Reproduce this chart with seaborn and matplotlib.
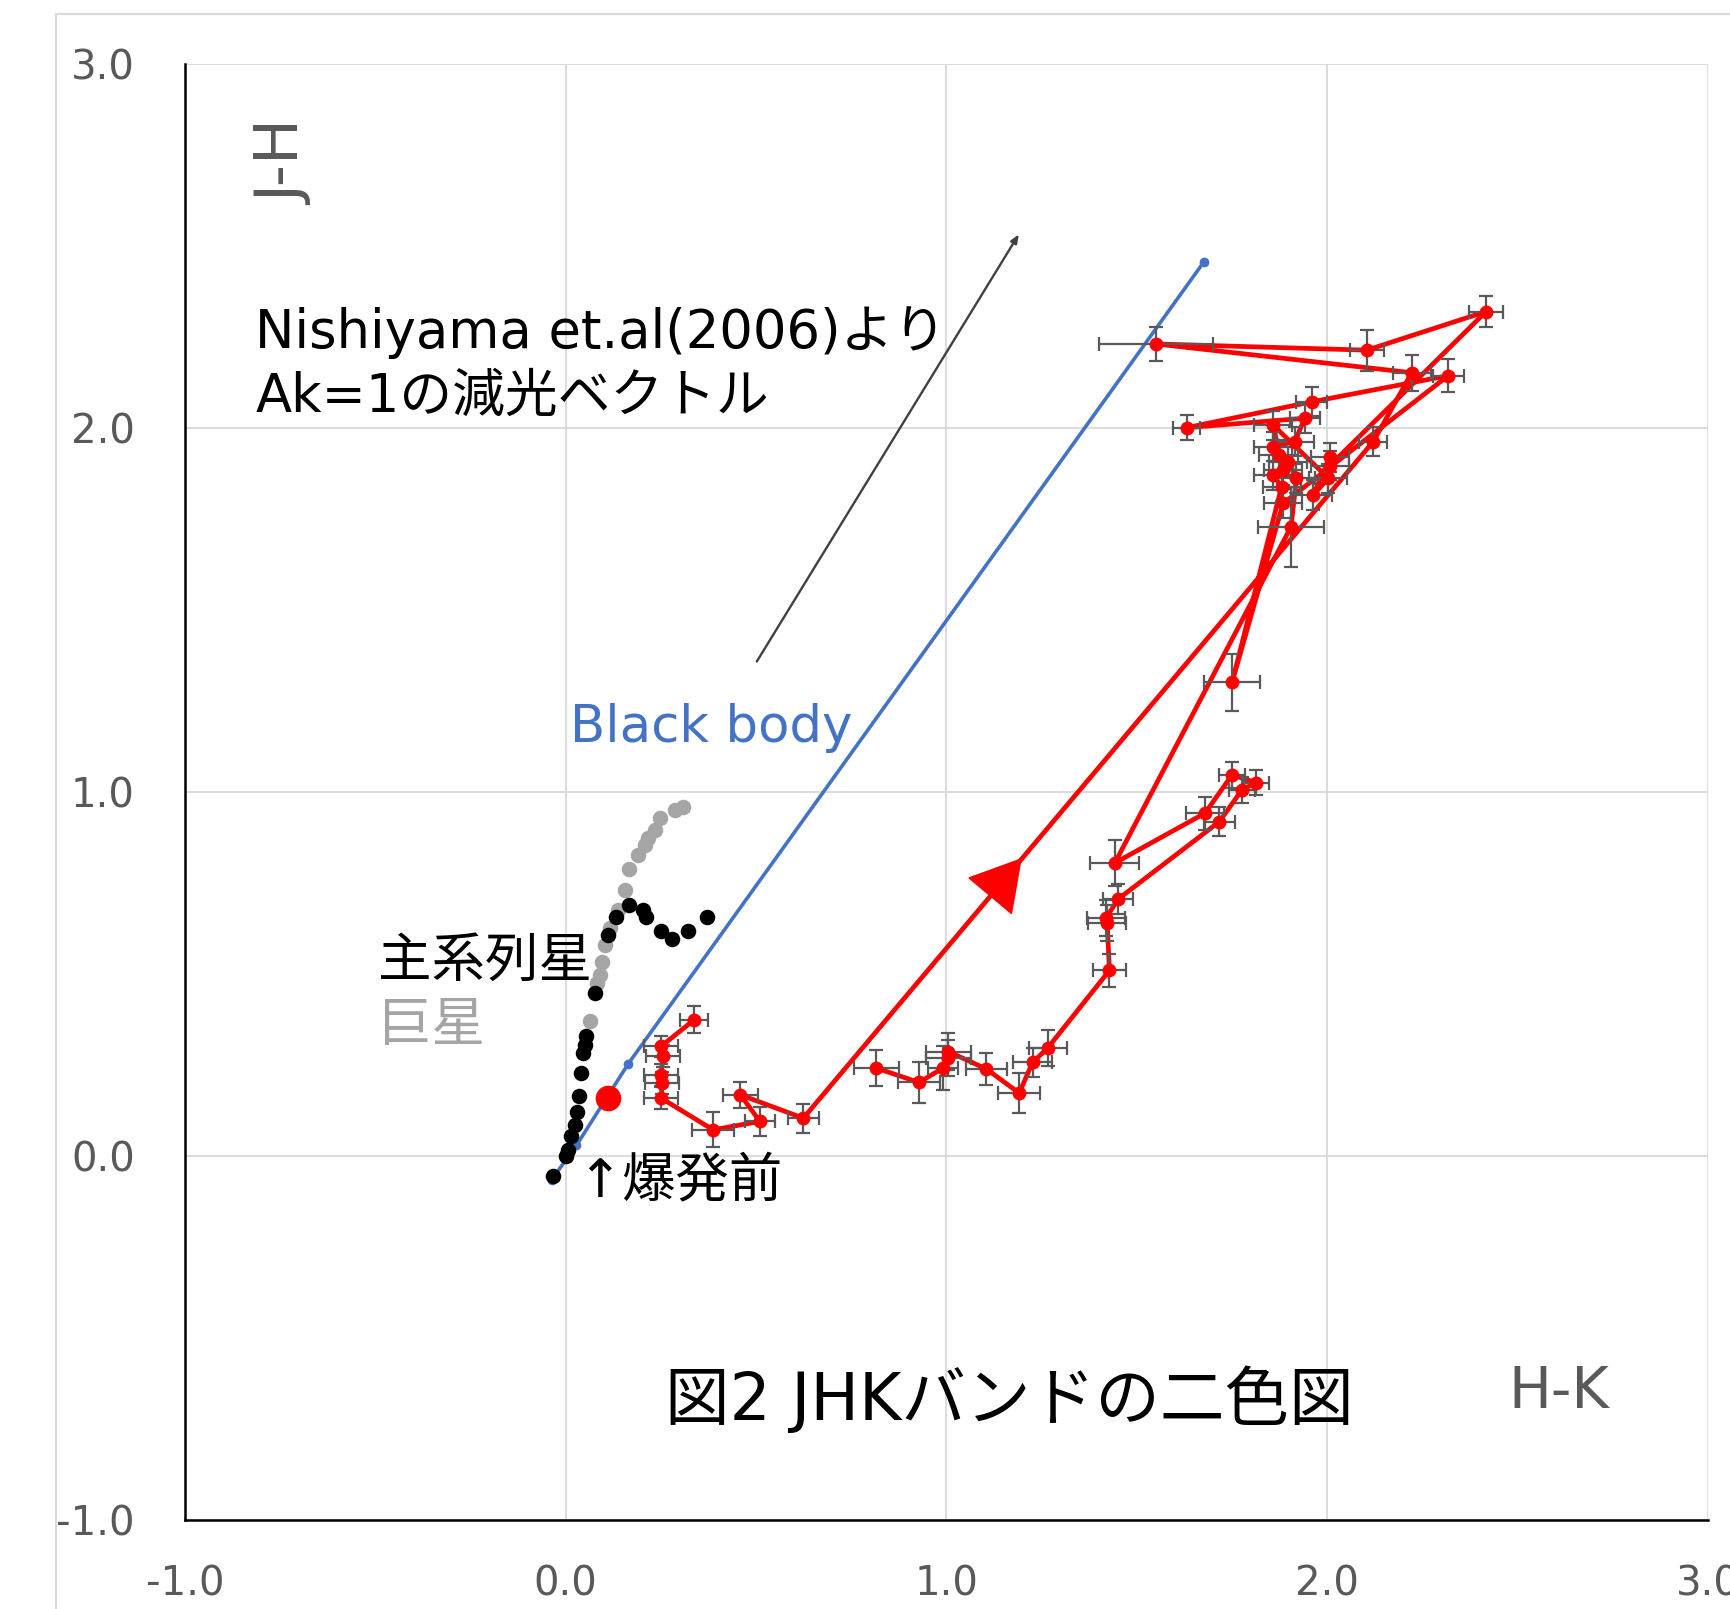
import numpy as np
import pandas as pd
import matplotlib.pyplot as plt
import matplotlib.patches as mpatches
import seaborn as sns

# main sequence (black) and giants (gray)
ms_hk = [-0.033, 0.002, 0.006, 0.015, 0.024, 0.030, 0.035, 0.039, 0.046, 0.050, 0.054,
         0.076, 0.111, 0.133, 0.166, 0.203, 0.212, 0.251, 0.278, 0.321, 0.371]
ms_jh = [-0.056, -0.001, 0.017, 0.054, 0.086, 0.122, 0.164, 0.228, 0.283, 0.306, 0.329,
         0.448, 0.608, 0.658, 0.690, 0.676, 0.658, 0.617, 0.596, 0.617, 0.658]
giant_hk = [0.063, 0.081, 0.089, 0.094, 0.102, 0.116, 0.137, 0.155, 0.166, 0.190,
            0.208, 0.216, 0.234, 0.247, 0.286, 0.308]
giant_jh = [0.370, 0.475, 0.498, 0.534, 0.580, 0.626, 0.676, 0.731, 0.788, 0.827,
            0.855, 0.873, 0.896, 0.928, 0.951, 0.958]

# black body line
bb_hk = [-0.037, 0.028, 0.164, 1.675]
bb_jh = [-0.065, 0.029, 0.253, 2.455]

# pre-outburst point
pre_hk = [0.111]
pre_jh = [0.159]

# outburst track (time order)
obs_hk = [0.337, 0.250, 0.256, 0.250, 0.253, 0.251, 0.387, 0.510, 0.459, 0.624,
          2.121, 2.222, 1.550, 2.104, 2.417, 2.007, 2.007, 1.963, 2.003, 1.858,
          1.884, 1.872, 1.858, 1.915, 1.941, 1.631, 1.959, 2.318, 1.884, 1.750,
          1.880, 1.858, 1.898, 1.919, 1.905, 1.442, 1.679, 1.750, 1.813, 1.776,
          1.717, 1.451, 1.419, 1.422, 1.428, 1.266, 1.226, 1.191, 1.105, 1.005,
          1.005, 0.991, 0.928, 0.815]
obs_jh = [0.374, 0.301, 0.275, 0.223, 0.200, 0.159, 0.072, 0.095, 0.168, 0.104,
          1.963, 2.152, 2.231, 2.214, 2.320, 1.897, 1.920, 1.816, 1.862, 2.008,
          1.884, 1.926, 1.949, 1.963, 2.027, 2.001, 2.072, 2.144, 1.793, 1.301,
          1.839, 1.870, 1.908, 1.862, 1.729, 0.805, 0.942, 1.047, 1.026, 1.006,
          0.919, 0.706, 0.654, 0.640, 0.510, 0.297, 0.257, 0.173, 0.239, 0.287,
          0.269, 0.242, 0.202, 0.242]
obs_xerr = [0.037, 0.045, 0.045, 0.045, 0.045, 0.045, 0.055, 0.04, 0.045, 0.04,
            0.037, 0.05, 0.149, 0.045, 0.044, 0.05, 0.05, 0.05, 0.05, 0.05,
            0.05, 0.05, 0.05, 0.05, 0.04, 0.035, 0.04, 0.04, 0.05, 0.074,
            0.05, 0.05, 0.05, 0.05, 0.087, 0.064, 0.05, 0.035, 0.035, 0.035,
            0.04, 0.04, 0.05, 0.05, 0.044, 0.05, 0.05, 0.055, 0.055, 0.06,
            0.06, 0.04, 0.055, 0.059]
obs_yerr = [0.037, 0.03, 0.03, 0.03, 0.03, 0.03, 0.048, 0.04, 0.035, 0.04,
            0.039, 0.05, 0.046, 0.056, 0.042, 0.04, 0.04, 0.04, 0.04, 0.04,
            0.04, 0.04, 0.04, 0.04, 0.04, 0.035, 0.04, 0.045, 0.04, 0.078,
            0.04, 0.04, 0.04, 0.04, 0.11, 0.064, 0.045, 0.035, 0.035, 0.035,
            0.04, 0.04, 0.05, 0.05, 0.045, 0.05, 0.04, 0.055, 0.045, 0.05,
            0.05, 0.06, 0.055, 0.05]

# Ak=1 extinction vector (Nishiyama et al. 2006)
ext_hk = [0.498, 1.194]
ext_jh = [1.352, 2.539]

track = pd.DataFrame({'HK': obs_hk, 'JH': obs_jh})

sns.set_style("white")
plt.rcParams['font.family'] = ['DejaVu Sans', 'Noto Sans CJK JP']

fig = plt.figure(figsize=(17.30, 16.09), dpi=100)
ax = fig.add_axes([0.1069, 0.0553, 0.8804, 0.9049])

# outer chart frame
fig.patches.append(mpatches.Rectangle((0.0324, -0.1), 2, 1.0913, transform=fig.transFigure,
                                      fill=False, edgecolor='#d9d9d9', lw=1.5, zorder=0))

ax.plot(bb_hk, bb_jh, color='#4472c4', lw=2.6, marker='o', ms=6, zorder=3)
sns.scatterplot(x=giant_hk, y=giant_jh, color='#a5a5a5', s=125, linewidth=0, ax=ax, zorder=4)
sns.scatterplot(x=ms_hk, y=ms_jh, color='black', s=125, linewidth=0, ax=ax, zorder=4)

sns.lineplot(data=track, x='HK', y='JH', sort=False, estimator=None, color='red', lw=3.4,
             ax=ax, zorder=5)
ax.errorbar(obs_hk, obs_jh, xerr=obs_xerr, yerr=obs_yerr, fmt='none', ecolor='#595959',
            elinewidth=1.6, capsize=4.8, capthick=1.6, zorder=6)
sns.scatterplot(data=track, x='HK', y='JH', color='red', s=100, linewidth=0, ax=ax, zorder=7)

sns.scatterplot(x=pre_hk, y=pre_jh, color='red', s=340, linewidth=0, ax=ax, zorder=8)

# direction arrow on the track
ax.plot([1.14], [0.75], marker=(3, 0, -40), color='red', ms=46, zorder=8)

ax.annotate('', xy=(ext_hk[1], ext_jh[1]), xytext=(ext_hk[0], ext_jh[0]),
            arrowprops=dict(arrowstyle='-|>,head_length=0.5,head_width=0.2', color='#404040', lw=1.7))

ax.set_xlim(-1, 3)
ax.set_ylim(-1, 3)
ax.set_xticks([-1, 0, 1, 2, 3])
ax.set_yticks([-1, 0, 1, 2, 3])
ax.set_xticklabels(['-1.0', '0.0', '1.0', '2.0', '3.0'])
ax.set_yticklabels(['-1.0', '0.0', '1.0', '2.0', '3.0'])
ax.grid(True, color='#d9d9d9', lw=1.3)
ax.set_axisbelow(True)
for s in ['top', 'right']:
    ax.spines[s].set_visible(False)
for s in ['left', 'bottom']:
    ax.spines[s].set_color('black')
    ax.spines[s].set_linewidth(1.8)
ax.tick_params(axis='both', which='major', length=10, width=1.5, color='black',
               labelcolor='#595959', labelsize=29)
ax.tick_params(axis='y', pad=26)
ax.tick_params(axis='x', pad=22)
ax.set_xlabel('')
ax.set_ylabel('')

ax.text(-0.739, 2.727, 'J-H', rotation=90, color='#595959', fontsize=44, ha='center', va='center')
ax.text(2.609, -0.651, 'H-K', color='#595959', fontsize=41, ha='center', va='center')
ax.text(-0.815, 2.261, 'Nishiyama et.al(2006)より', color='black', fontsize=38, ha='left', va='center')
ax.text(-0.815, 2.086, 'Ak=1の減光ベクトル', color='black', fontsize=38, ha='left', va='center')
ax.text(0.011, 1.176, 'Black body', color='#4472c4', fontsize=37, ha='left', va='center')
ax.text(-0.494, 0.534, '主系列星', color='black', fontsize=38.5, ha='left', va='center')
ax.text(-0.494, 0.358, '巨星', color='#a5a5a5', fontsize=38.5, ha='left', va='center')
ax.text(0.029, -0.073, '↑爆発前', color='black', fontsize=38.5, ha='left', va='center')
ax.text(0.26, -0.672, '図2 JHKバンドの二色図', color='black', fontsize=46.5, ha='left', va='center')

fig.savefig('out.png', dpi=100)
